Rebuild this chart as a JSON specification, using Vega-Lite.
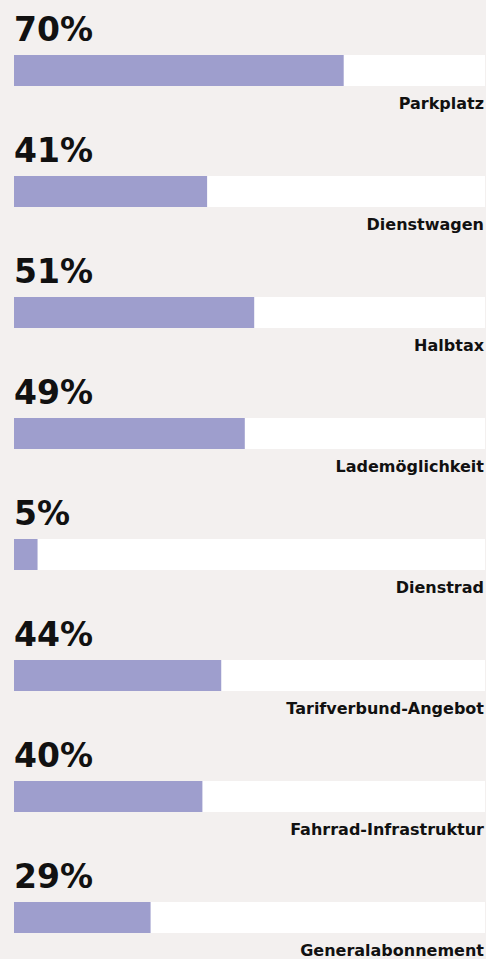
{
  "$schema": "https://vega.github.io/schema/vega-lite/v6.json",
  "width": 486,
  "height": 959,
  "autosize": {"type": "none"},
  "padding": 0,
  "background": "#f3f0ef",
  "view": {"stroke": null},
  "data": {
    "values": [
      {"item": "Parkplatz", "pct": 0.70},
      {"item": "Dienstwagen", "pct": 0.41},
      {"item": "Halbtax", "pct": 0.51},
      {"item": "Lademöglichkeit", "pct": 0.49},
      {"item": "Dienstrad", "pct": 0.05},
      {"item": "Tarifverbund-Angebot", "pct": 0.44},
      {"item": "Fahrrad-Infrastruktur", "pct": 0.40},
      {"item": "Generalabonnement", "pct": 0.29}
    ]
  },
  "encoding": {
    "y": {
      "field": "item",
      "type": "nominal",
      "sort": null,
      "scale": {"type": "band", "range": [55, 933], "paddingInner": 0.7438, "paddingOuter": 0},
      "axis": null
    }
  },
  "layer": [
    {
      "mark": {"type": "bar", "color": "#ffffff"},
      "encoding": {
        "x": {"datum": 0, "type": "quantitative", "scale": {"domain": [0, 1], "range": [14, 485]}, "axis": null},
        "x2": {"datum": 1}
      }
    },
    {
      "mark": {"type": "bar", "color": "#9e9ecd"},
      "encoding": {
        "x": {"field": "pct", "type": "quantitative", "scale": {"domain": [0, 1], "range": [14, 485]}, "axis": null}
      }
    },
    {
      "mark": {"type": "text", "align": "left", "baseline": "alphabetic", "dy": -29.5, "font": "DejaVu Sans", "fontWeight": "bold", "fontSize": 33, "color": "#111111"},
      "encoding": {
        "x": {"datum": 0, "type": "quantitative", "scale": {"domain": [0, 1], "range": [14, 485]}, "axis": null},
        "text": {"field": "pct", "type": "quantitative", "format": ".0%"}
      }
    },
    {
      "mark": {"type": "text", "align": "right", "baseline": "alphabetic", "dy": 38.5, "dx": -1, "font": "DejaVu Sans", "fontWeight": "bold", "fontSize": 16, "color": "#111111"},
      "encoding": {
        "x": {"datum": 1, "type": "quantitative", "scale": {"domain": [0, 1], "range": [14, 485]}, "axis": null},
        "text": {"field": "item", "type": "nominal"}
      }
    }
  ]
}
